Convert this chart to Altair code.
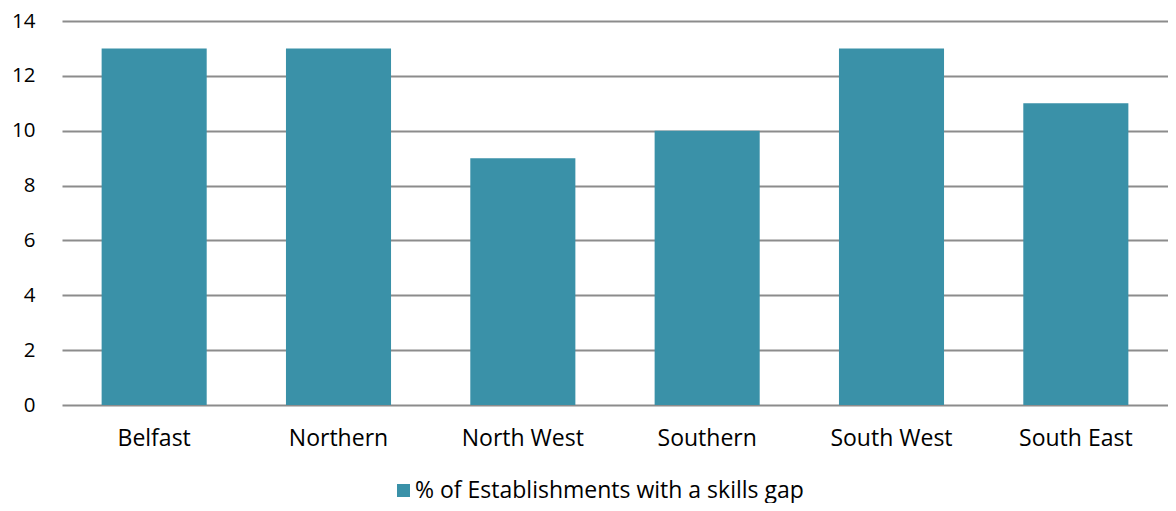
import altair as alt
import pandas as pd

regions = ["Belfast", "Northern", "North West", "Southern", "South West", "South East"]
values = [13, 13, 9, 10, 13, 11]
series = "% of Establishments with a skills gap"

df = pd.DataFrame({"region": regions, "value": values, "series": [series] * len(regions)})

FONT = "Open Sans"

chart = alt.Chart(df).mark_bar(color="#3A91A8").encode(
    x=alt.X("region:N", sort=regions, title=None,
            scale=alt.Scale(paddingInner=0.43, paddingOuter=0.215),
            axis=alt.Axis(labelAngle=0, ticks=False, domain=False, labelPadding=22,
                          labelFontSize=23, labelFont=FONT, labelColor="#000000")),
    y=alt.Y("value:Q", title=None,
            scale=alt.Scale(domain=[0, 14], nice=False),
            axis=alt.Axis(values=[0, 2, 4, 6, 8, 10, 12, 14], ticks=False, domain=False,
                          labelPadding=27, labelFontSize=20.5, labelFont=FONT,
                          labelColor="#000000", gridColor="#8c8c8c", gridWidth=2)),
    color=alt.Color("series:N", title=None,
                    scale=alt.Scale(range=["#3A91A8"]),
                    legend=alt.Legend(orient="none", legendX=330, legendY=458,
                                      symbolType="square", symbolSize=169,
                                      symbolStrokeWidth=0, labelFontSize=23,
                                      labelFont=FONT, labelColor="#000000",
                                      labelLimit=700, symbolOffset=0, labelOffset=0)),
).properties(
    width=1106, height=384,
    autosize=alt.AutoSizeParams(type="none"),
    padding={"left": 54, "top": 13, "right": 0, "bottom": 98},
).configure_view(stroke=None)

chart.save("out.html", embed_options={"renderer": "svg", "actions": False})
